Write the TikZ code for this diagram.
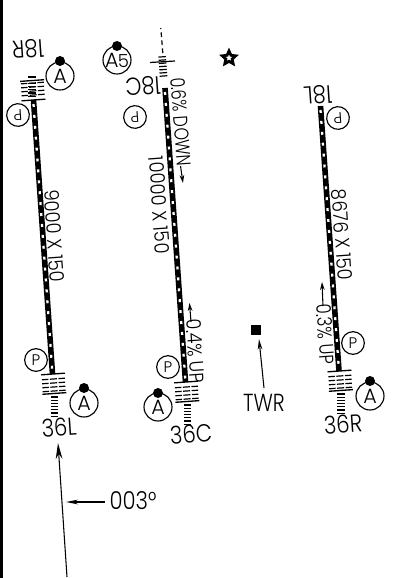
\documentclass[tikz,border=0pt]{standalone}
\usepackage{fontspec}
\setmainfont{Poppins Light}
\usetikzlibrary{arrows.meta,shapes.geometric}
\newcommand{\narrowtxt}[2][.86]{\scalebox{#1}[1]{#2}}
\tikzset{
  x=0.75pt,y=-0.75pt,
  lab/.style={font=\fontsize{18.5}{18}\selectfont,inner sep=0pt},
  rwlab/.style={font=\fontsize{15}{16}\selectfont,inner sep=0pt},
  big/.style={circle,draw,line width=0.85pt,minimum size=21pt,inner sep=0pt,font=\fontsize{15.5}{15}\selectfont},
  small/.style={circle,draw,line width=0.85pt,minimum size=17pt,inner sep=0pt,font=\fontsize{11.5}{11}\selectfont},
  dot/.style={circle,fill=black,minimum size=7.5pt,inner sep=0pt},
  rwblack/.style={line width=4.2pt},
  rwwhite/.style={line width=1.7pt,white,dash pattern=on 2.2pt off 6pt},
  thin line/.style={line width=0.8pt},
  narrowbars/.pic={
    \foreach \yy in {0,3.2,...,19.5} \draw[line width=0.9pt] (-3.8,\yy) -- (3.8,\yy);
  },
  appr/.pic={
    \draw[line width=1pt] (-12,0) -- (12,0);
    \foreach \yy in {5,9,13,17} {
      \draw[line width=0.9pt] (-11.5,\yy) -- (-5,\yy);
      \draw[line width=0.9pt] (5,\yy) -- (11.5,\yy);
      \draw[line width=0.9pt] (-3.5,\yy) -- (3.5,\yy);
    }
    \draw[line width=1pt] (-12,19.5) -- (12,19.5);
    \pic at (0,23) {narrowbars};
  }
}
\begin{document}
\begin{tikzpicture}
\useasboundingbox (0,0) rectangle (396,578);
\fill[black] (0,0) rectangle (3,578);
% runways
\draw[rwblack] (33.5,100) -- (52.5,374);
\draw[rwwhite] (33.5,104) -- (52.5,374);
\draw[rwblack] (165,88) -- (185.5,382);
\draw[rwwhite] (165,92) -- (185.5,382);
\draw[rwblack] (320.5,106) -- (339,371);
\draw[rwwhite] (320.5,110) -- (339,371);
% approach structures
\pic[rotate=4] at (53,374) {appr};
\pic[rotate=184] at (33.5,100) {appr};
\pic[rotate=4] at (186,382) {appr};
\pic[rotate=4] at (339.5,371) {appr};
% centre top
\pic[rotate=184] at (163.5,76) {narrowbars};
\draw[line width=0.9pt] (150,62.5) -- (175,61);
\draw[line width=0.9pt,dash pattern=on 3.5pt off 2.5pt] (162.8,53) -- (160.8,28);
% circles
\node[big] (a1) at (60,76) {A};   \node[dot] (a1d) at (60,61) {};
\node[big] (a2) at (84,403) {A};  \node[dot] (a2d) at (84,388) {};
\node[big] (a3) at (117,60) {A\kern-0.5pt\fontsize{13.5}{13}\selectfont 5}; \node[dot] (a3d) at (117,46) {};
\node[big] (a4) at (158,407) {A}; \node[dot] (a4d) at (158,393) {};
\node[big] (a5) at (370,396) {A}; \node[dot] (a5d) at (370,381) {};
\node[small] (p1) at (36,360) {P};
\node[small] (p2) at (168,367) {P};
\node[small] (p3) at (353,343) {P};
\node[small,rotate=184] (d1) at (18,115) {P};
\node[small,rotate=184] (d2) at (135,117) {P};
\node[small,rotate=184] (d3) at (338,118) {P};
% runway end labels
\node[lab,rotate=184] (r18r) at (28,49) {\narrowtxt{18R}};
\node[lab,rotate=184] (r18c) at (143,86) {\narrowtxt{18C}};
\node[lab,rotate=184] (r18l) at (318,95) {\narrowtxt{18L}};
\node[lab,rotate=4] (r36l) at (59,427) {\narrowtxt{36L}};
\node[lab,rotate=4] (r36c) at (191,434) {\narrowtxt{36C}};
\node[lab,rotate=4] (r36r) at (343,424) {\narrowtxt{36R}};
% runway texts
\node[rwlab,rotate=-86] (t1) at (54.5,236) {\narrowtxt[.9]{9000 X 150}};
\node[rwlab,rotate=-86] (t2) at (159.5,205) {\narrowtxt[.9]{10000 X 150}};
\node[rwlab,rotate=-86] (t3) at (342,235) {\narrowtxt[.9]{8676 X 150}};
\node[rwlab,rotate=-86] (t4) at (181,122) {\narrowtxt[.8]{0.6\% DOWN}};
\node[rwlab,rotate=-86] (t5) at (195.5,351) {\narrowtxt[.88]{0.4\% UP}};
\node[rwlab,rotate=-86] (t6) at (325.5,334) {\narrowtxt[.83]{0.3\% UP}};
\coordinate (g1s) at (180.5,166); \coordinate (g1e) at (183,183);
\coordinate (g2s) at (191,322); \coordinate (g2e) at (189.5,303);
\coordinate (g3s) at (323,306); \coordinate (g3e) at (322,282);
\draw[thin line,-{Stealth[length=6pt,width=3.5pt]}] (g1s) -- (g1e);
\draw[thin line,-{Stealth[length=6pt,width=3.5pt]}] (g2s) -- (g2e);
\draw[thin line,-{Stealth[length=6pt,width=3.5pt]}] (g3s) -- (g3e);
% beacon
\node[star,star points=5,star point ratio=2.1,draw,line width=2.1pt,fill=white,minimum size=10.5pt,inner sep=0pt] (bcn) at (229,58) {};
% tower
\node[fill=black,minimum size=7.5pt,inner sep=0pt] (twr) at (256,330) {};
\node[lab] (twrl) at (264,403) {\narrowtxt[.82]{TWR}};
\coordinate (twrs) at (264,388); \coordinate (twre) at (259,339);
\draw[thin line,-{Stealth[length=8pt,width=3.5pt]}] (twrs) -- (twre);
% approach arrow
\coordinate (bs) at (67,577); \coordinate (be) at (58,443);
\draw[thin line,-{Stealth[length=12pt,width=5pt]}] (bs) -- (be);
\node[lab] (hdg) at (133,501) {\narrowtxt{003°}};
\coordinate (hs) at (105,502); \coordinate (he) at (66,502);
\draw[thin line,-{Stealth[length=9pt,width=3.5pt]}] (hs) -- (he);
\end{tikzpicture}
\end{document}
